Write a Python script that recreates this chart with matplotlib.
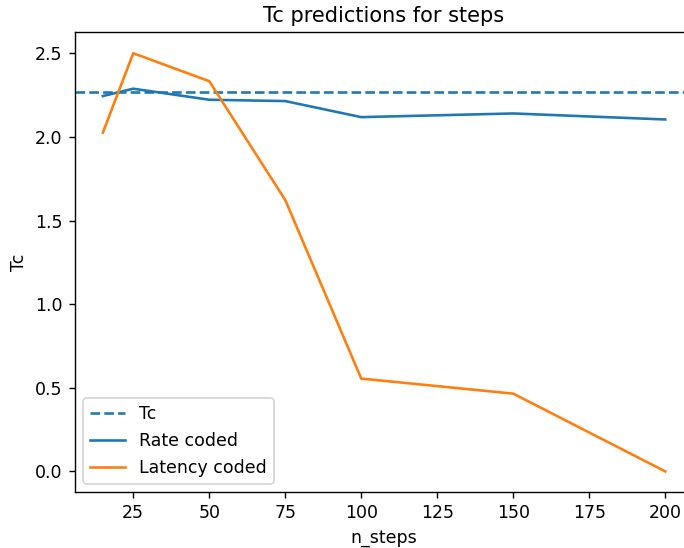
import matplotlib
matplotlib.use('Agg')
import matplotlib.pyplot as plt

n_steps = [15, 25, 50, 75, 100, 150, 200]
tc_value = 2.27
rate_coded = [2.244, 2.288, 2.222, 2.214, 2.118, 2.140, 2.104]
latency_coded = [2.025, 2.50, 2.333, 1.623, 0.555, 0.465, 0.0]

DPI = 125
fig = plt.figure(figsize=(684 / DPI, 548 / DPI), dpi=DPI)
ax = fig.add_axes([0.1092, 0.1016, 1.0137 - 0.1092, 0.941 - 0.1016])

ax.axhline(tc_value, linestyle='--', color='tab:blue', label='Tc')
ax.plot(n_steps, rate_coded, color='tab:blue', label='Rate coded')
ax.plot(n_steps, latency_coded, color='tab:orange', label='Latency coded')

ax.set_xlabel('n_steps')
ax.set_ylabel('Tc')
ax.set_title('Tc predictions for steps')
ax.legend(loc='lower left')

fig.savefig('out.png', dpi=DPI)
